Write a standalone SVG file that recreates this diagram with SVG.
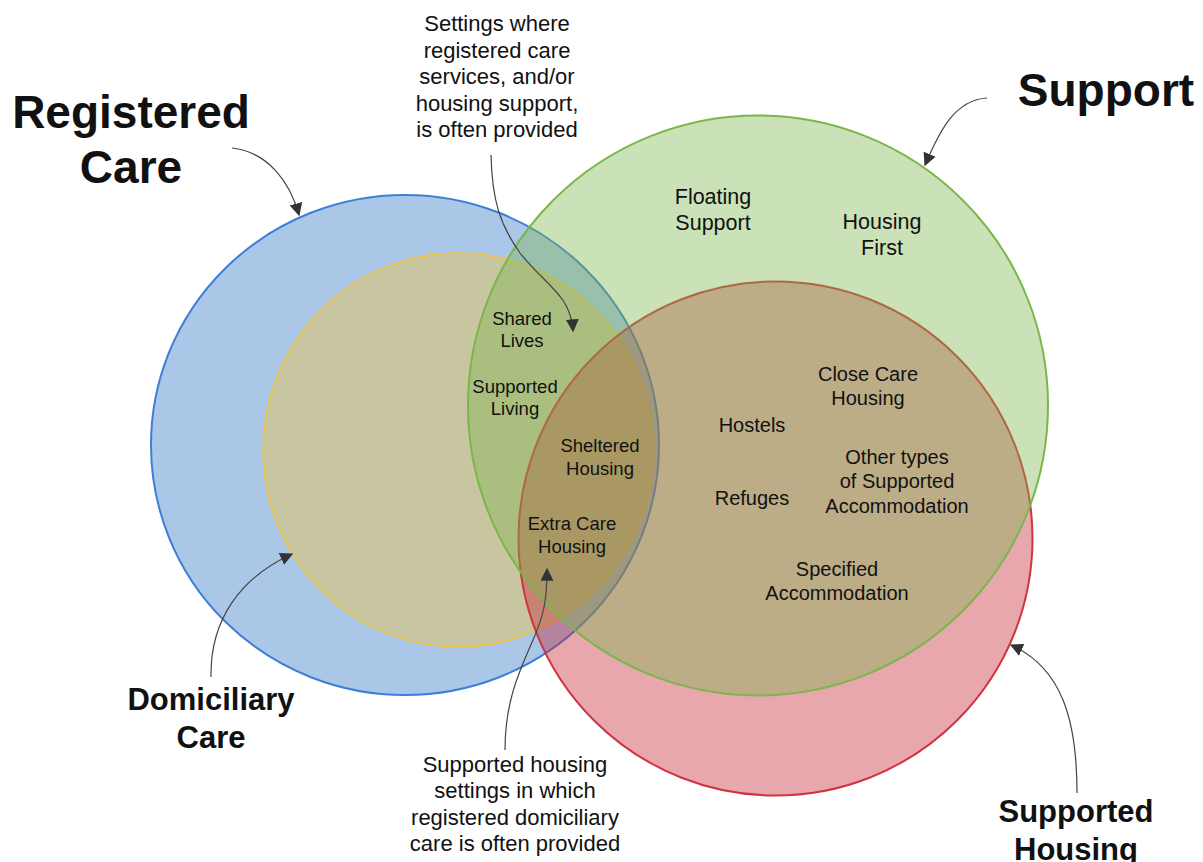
<svg xmlns="http://www.w3.org/2000/svg" width="1203" height="862" viewBox="0 0 1203 862">
<style>
.t{font-family:"Liberation Sans",Arial,sans-serif;fill:#111;text-anchor:middle}
.big{font-size:46px;font-weight:bold}
.mid{font-size:31px;font-weight:bold}
.note{font-size:22px}
.l21{font-size:21.5px}
.l20{font-size:20px}
.l18{font-size:18.5px}
.conn{fill:none;stroke:#444;stroke-width:1.2}
</style>
<defs>
<marker id="ah" viewBox="0 0 10 10" refX="9" refY="5" markerWidth="13" markerHeight="13" markerUnits="userSpaceOnUse" orient="auto">
<path d="M0,0 L10,5 L0,10 z" fill="#333"/>
</marker>
</defs>
<rect width="1203" height="862" fill="#fff"/>
<g id="registered-care">
<ellipse cx="405" cy="445" rx="254" ry="250" fill="#2d73c5" fill-opacity="0.4" stroke="#3d7fd6" stroke-width="2"/>
</g>
<g id="domiciliary-care">
<ellipse cx="458" cy="450" rx="195" ry="197" fill="#f6c236" fill-opacity="0.4" stroke="#f2c23a" stroke-width="1.5"/>
</g>
<g id="supported-housing">
<circle cx="775.5" cy="538.5" r="257" fill="#c52332" fill-opacity="0.4" stroke="#d0343f" stroke-width="2"/>
</g>
<g id="support">
<circle cx="758" cy="405.5" r="290" fill="#7db64e" fill-opacity="0.4" stroke="#7ab648" stroke-width="2"/>
</g>
<g id="connectors">
<path class="conn" d="M232,148 C268,152 290,182 299,215" marker-end="url(#ah)"/>
<path class="conn" d="M987,98 C955,100 940,130 925,165" marker-end="url(#ah)"/>
<path class="conn" d="M491,155 C492,200 500,225 520,253 C545,285 571,295 573,331" marker-end="url(#ah)"/>
<path class="conn" d="M211,677 C210,620 240,578 292,554" marker-end="url(#ah)"/>
<path class="conn" d="M505,750 C505,700 520,670 533,640 C544,615 547,600 547,569" marker-end="url(#ah)"/>
<path class="conn" d="M1077,793 C1077,720 1062,668 1011,645" marker-end="url(#ah)"/>
</g>
<g id="label-registered-care">
<text class="t big" x="131" y="128">Registered</text>
<text class="t big" x="131" y="183">Care</text>
</g>
<g id="label-support">
<text class="t big" x="1106" y="106">Support</text>
</g>
<g id="label-domiciliary-care">
<text class="t mid" x="211" y="710">Domiciliary</text>
<text class="t mid" x="211" y="748">Care</text>
</g>
<g id="label-supported-housing">
<text class="t mid" x="1076" y="822">Supported</text>
<text class="t mid" x="1076" y="860">Housing</text>
</g>
<g id="note-settings">
<text class="t note" x="497" y="31">Settings where</text>
<text class="t note" x="497" y="57.5">registered care</text>
<text class="t note" x="497" y="84">services, and/or</text>
<text class="t note" x="497" y="110.5">housing support,</text>
<text class="t note" x="497" y="137">is often provided</text>
</g>
<g id="note-supported-housing-settings">
<text class="t note" x="515" y="772">Supported housing</text>
<text class="t note" x="515" y="798">settings in which</text>
<text class="t note" x="515" y="825">registered domiciliary</text>
<text class="t note" x="515" y="851">care is often provided</text>
</g>
<g id="floating-support">
<text class="t l21" x="713" y="204">Floating</text>
<text class="t l21" x="713" y="230">Support</text>
</g>
<g id="housing-first">
<text class="t l21" x="882" y="229">Housing</text>
<text class="t l21" x="882" y="255">First</text>
</g>
<g id="shared-lives">
<text class="t l18" x="522" y="325">Shared</text>
<text class="t l18" x="522" y="347">Lives</text>
</g>
<g id="supported-living">
<text class="t l18" x="515" y="393">Supported</text>
<text class="t l18" x="515" y="415">Living</text>
</g>
<g id="sheltered-housing">
<text class="t l18" x="600" y="452">Sheltered</text>
<text class="t l18" x="600" y="475">Housing</text>
</g>
<g id="extra-care-housing">
<text class="t l18" x="572" y="530">Extra Care</text>
<text class="t l18" x="572" y="553">Housing</text>
</g>
<g id="close-care-housing">
<text class="t l20" x="868" y="381">Close Care</text>
<text class="t l20" x="868" y="405">Housing</text>
</g>
<g id="hostels">
<text class="t l20" x="752" y="432">Hostels</text>
</g>
<g id="refuges">
<text class="t l20" x="752" y="505">Refuges</text>
</g>
<g id="other-types">
<text class="t l20" x="897" y="464">Other types</text>
<text class="t l20" x="897" y="488">of Supported</text>
<text class="t l20" x="897" y="513">Accommodation</text>
</g>
<g id="specified-accommodation">
<text class="t l20" x="837" y="576">Specified</text>
<text class="t l20" x="837" y="600">Accommodation</text>
</g>
</svg>
